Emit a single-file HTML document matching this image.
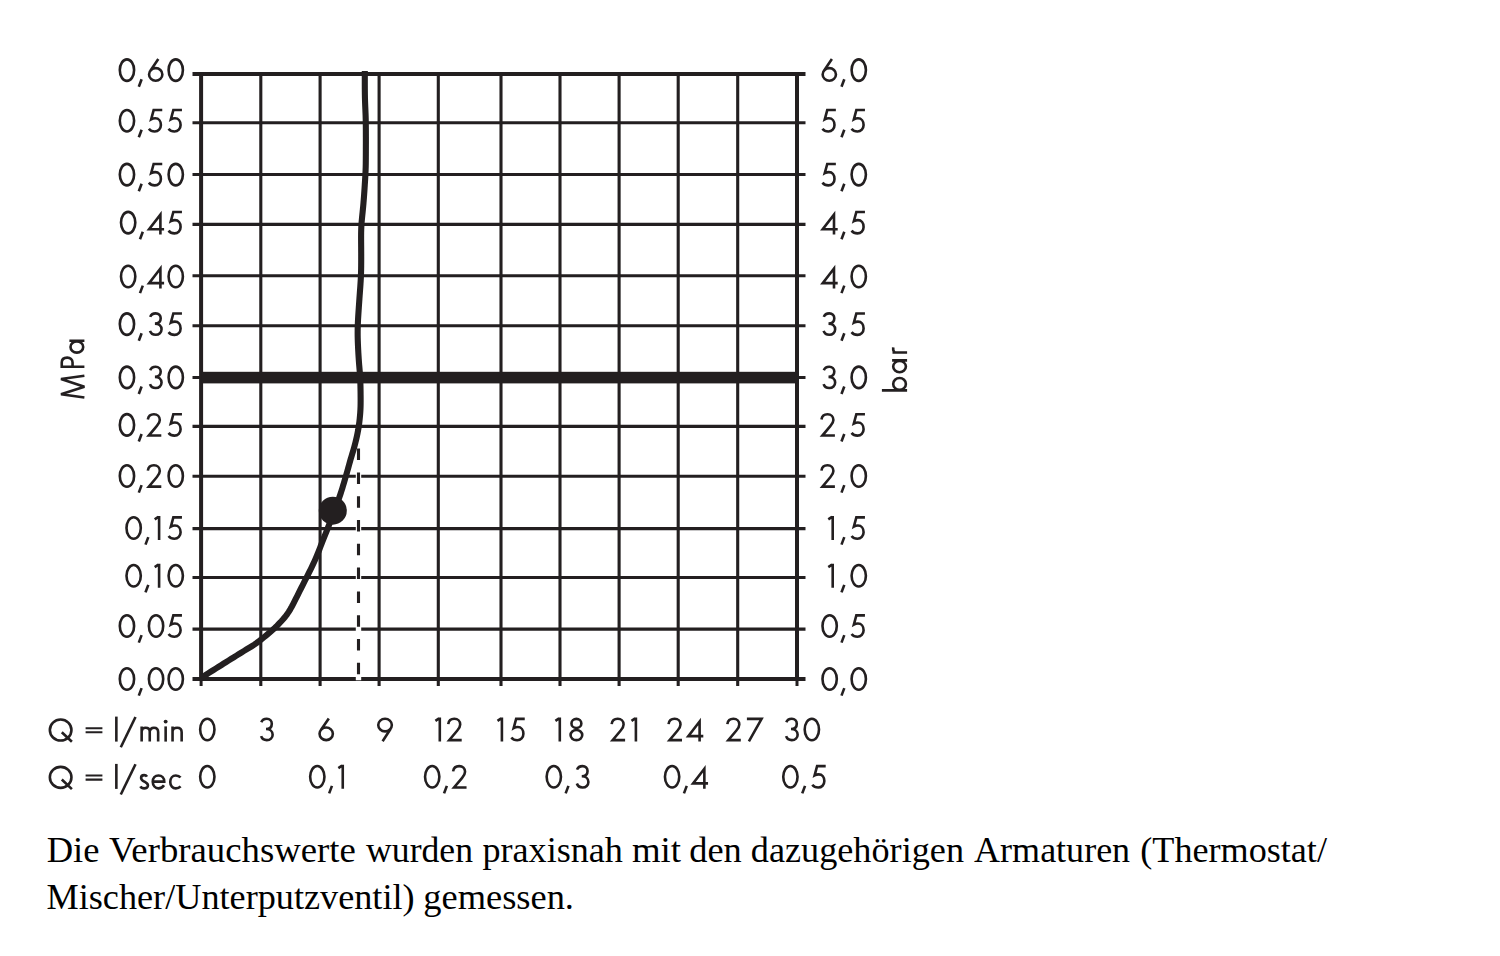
<!DOCTYPE html>
<html><head><meta charset="utf-8"><title>Chart</title>
<style>html,body{margin:0;padding:0;background:#fff;}svg{display:block;}</style></head>
<body><svg width="1500" height="956" viewBox="0 0 1500 956">
<rect width="1500" height="956" fill="#fff"/>
<line x1="192.5" y1="122.7" x2="805.5" y2="122.7" stroke="#231f20" stroke-width="3.1"/>
<line x1="192.5" y1="174.5" x2="805.5" y2="174.5" stroke="#231f20" stroke-width="3.1"/>
<line x1="192.5" y1="224.4" x2="805.5" y2="224.4" stroke="#231f20" stroke-width="3.1"/>
<line x1="192.5" y1="275.8" x2="805.5" y2="275.8" stroke="#231f20" stroke-width="3.1"/>
<line x1="192.5" y1="325.7" x2="805.5" y2="325.7" stroke="#231f20" stroke-width="3.1"/>
<line x1="192.5" y1="426.4" x2="805.5" y2="426.4" stroke="#231f20" stroke-width="3.1"/>
<line x1="192.5" y1="476.3" x2="805.5" y2="476.3" stroke="#231f20" stroke-width="3.1"/>
<line x1="192.5" y1="528.6" x2="805.5" y2="528.6" stroke="#231f20" stroke-width="3.1"/>
<line x1="192.5" y1="577.5" x2="805.5" y2="577.5" stroke="#231f20" stroke-width="3.1"/>
<line x1="192.5" y1="629.1" x2="805.5" y2="629.1" stroke="#231f20" stroke-width="3.1"/>
<line x1="260.8" y1="74.0" x2="260.8" y2="686.0" stroke="#231f20" stroke-width="3.1"/>
<line x1="320.1" y1="74.0" x2="320.1" y2="686.0" stroke="#231f20" stroke-width="3.1"/>
<line x1="379.1" y1="74.0" x2="379.1" y2="686.0" stroke="#231f20" stroke-width="3.1"/>
<line x1="438.3" y1="74.0" x2="438.3" y2="686.0" stroke="#231f20" stroke-width="3.1"/>
<line x1="501.0" y1="74.0" x2="501.0" y2="686.0" stroke="#231f20" stroke-width="3.1"/>
<line x1="560.0" y1="74.0" x2="560.0" y2="686.0" stroke="#231f20" stroke-width="3.1"/>
<line x1="619.1" y1="74.0" x2="619.1" y2="686.0" stroke="#231f20" stroke-width="3.1"/>
<line x1="678.2" y1="74.0" x2="678.2" y2="686.0" stroke="#231f20" stroke-width="3.1"/>
<line x1="737.7" y1="74.0" x2="737.7" y2="686.0" stroke="#231f20" stroke-width="3.1"/>
<line x1="192.5" y1="74.0" x2="805.5" y2="74.0" stroke="#231f20" stroke-width="3.8"/>
<line x1="192.5" y1="679.0" x2="805.5" y2="679.0" stroke="#231f20" stroke-width="3.8"/>
<line x1="201.1" y1="72.1" x2="201.1" y2="680.5" stroke="#231f20" stroke-width="4.0"/>
<line x1="201.1" y1="680" x2="201.1" y2="686" stroke="#231f20" stroke-width="3.0"/>
<line x1="797.0" y1="72.1" x2="797.0" y2="680.5" stroke="#231f20" stroke-width="4.0"/>
<line x1="797.0" y1="680" x2="797.0" y2="686" stroke="#231f20" stroke-width="3.0"/>
<line x1="192.5" y1="377.6" x2="805.5" y2="377.6" stroke="#231f20" stroke-width="3"/>
<rect x="201.1" y="371.8" width="595.9" height="11.6" fill="#231f20"/>
<line x1="358.5" y1="448.6" x2="358.5" y2="680.2" stroke="#fff" stroke-width="5.4"/>
<line x1="358.5" y1="448.6" x2="358.5" y2="676" stroke="#231f20" stroke-width="3.1" stroke-dasharray="11.5 12.3"/>
<path d="M364.80 71.00 L364.80 74.00 364.80 77.00 364.80 80.00 364.80 83.00 364.81 86.00 364.82 89.00 364.85 92.00 364.89 95.00 364.95 98.00 365.03 101.00 365.14 103.99 365.26 106.99 365.39 109.99 365.51 112.99 365.62 115.98 365.71 118.98 365.77 121.98 365.81 124.98 365.84 127.98 365.86 130.98 365.87 133.98 365.88 136.98 365.88 139.98 365.88 142.98 365.87 145.98 365.86 148.98 365.85 151.98 365.84 154.98 365.82 157.98 365.79 160.98 365.76 163.98 365.70 166.98 365.60 169.98 365.47 172.97 365.32 175.97 365.15 178.96 364.96 181.96 364.77 184.95 364.58 187.95 364.38 190.94 364.17 193.93 363.95 196.92 363.72 199.91 363.48 202.90 363.22 205.89 362.93 208.88 362.64 211.86 362.33 214.85 362.03 217.83 361.75 220.82 361.51 223.81 361.32 226.80 361.20 229.80 361.13 232.80 361.10 235.79 361.10 238.79 361.12 241.79 361.14 244.79 361.17 247.79 361.18 250.79 361.20 253.79 361.20 256.79 361.20 259.79 361.19 262.79 361.17 265.79 361.13 268.79 361.06 271.79 360.97 274.79 360.84 277.79 360.68 280.78 360.49 283.77 360.29 286.77 360.07 289.76 359.85 292.75 359.63 295.74 359.42 298.74 359.21 301.73 359.00 304.72 358.79 307.71 358.59 310.71 358.39 313.70 358.20 316.69 358.03 319.69 357.89 322.69 357.77 325.68 357.69 328.68 357.66 331.68 357.66 334.68 357.71 337.68 357.79 340.68 357.90 343.67 358.03 346.67 358.18 349.67 358.34 352.66 358.52 355.66 358.71 358.65 358.92 361.64 359.15 364.63 359.40 367.62 359.66 370.61 359.89 373.60 360.09 376.60 360.25 379.59 360.36 382.59 360.45 385.59 360.51 388.58 360.56 391.58 360.59 394.58 360.62 397.58 360.63 400.58 360.61 403.58 360.55 406.58 360.43 409.58 360.25 412.57 360.02 415.56 359.74 418.54 359.41 421.53 359.02 424.50 358.58 427.46 358.08 430.42 357.51 433.36 356.89 436.30 356.23 439.22 355.53 442.14 354.79 445.05 354.00 447.94 353.17 450.82 352.31 453.70 351.44 456.57 350.59 459.44 349.76 462.32 348.96 465.21 348.17 468.11 347.36 471.00 346.55 473.88 345.71 476.77 344.87 479.64 344.01 482.52 343.15 485.39 342.29 488.27 341.40 491.13 340.48 493.98 339.52 496.83 338.52 499.66 337.51 502.48 336.47 505.29 335.42 508.10 334.37 510.91 333.31 513.72 332.25 516.53 331.19 519.33 330.12 522.14 329.04 524.94 327.95 527.73 326.84 530.52 325.72 533.30 324.60 536.08 323.49 538.87 322.40 541.66 321.32 544.46 320.24 547.26 319.15 550.05 318.04 552.84 316.90 555.62 315.74 558.38 314.54 561.13 313.30 563.86 312.02 566.57 310.71 569.27 309.36 571.95 308.01 574.63 306.65 577.30 305.29 579.98 303.93 582.65 302.58 585.33 301.22 588.00 299.87 590.68 298.53 593.37 297.19 596.05 295.85 598.73 294.49 601.41 293.12 604.08 291.72 606.73 290.26 609.34 288.70 611.89 287.03 614.37 285.22 616.74 283.30 619.04 281.30 621.27 279.24 623.45 277.15 625.59 275.00 627.69 272.81 629.72 270.56 631.71 268.28 633.66 265.98 635.58 263.67 637.49 261.34 639.38 258.97 641.22 256.56 643.00 254.09 644.69 251.58 646.32 249.03 647.90 246.47 649.46 243.91 651.02 241.35 652.60 238.80 654.18 236.26 655.76 233.71 657.35 231.16 658.94 228.62 660.53 226.07 662.11 223.53 663.70 220.98 665.29 218.44 666.88 215.90 668.47 213.36 670.07 210.83 671.67 208.33 673.27 205.90 674.86 203.56 676.44 201.30 678.00" fill="none" stroke="#231f20" stroke-width="6.1" stroke-linecap="butt" stroke-linejoin="round"/>
<circle cx="332.8" cy="510.7" r="14.0" fill="#231f20"/>
<g transform="translate(118.45 82.10)"><g fill="none" stroke="#231f20" stroke-width="2.60" stroke-linejoin="miter" stroke-miterlimit="6"><path transform="translate(0.00 0)" d="M1.35 -12.00 A7.15 10.75 0 1 0 15.65 -12.00 A7.15 10.75 0 1 0 1.35 -12.00 Z"/><path transform="translate(19.35 0)" d="M3.8 -2.9 L1.0 4.6"/><path transform="translate(29.25 0)" d="M1.35 -7.65 A6.65 6.30 0 1 0 14.65 -7.65 A6.65 6.30 0 1 0 1.35 -7.65 Z M2.5 -11.2 L10.6 -23.0"/><path transform="translate(48.80 0)" d="M1.35 -12.00 A7.15 10.75 0 1 0 15.65 -12.00 A7.15 10.75 0 1 0 1.35 -12.00 Z"/></g><g fill="#231f20"></g></g>
<g transform="translate(821.30 82.10)"><g fill="none" stroke="#231f20" stroke-width="2.60" stroke-linejoin="miter" stroke-miterlimit="6"><path transform="translate(0.00 0)" d="M1.35 -7.65 A6.65 6.30 0 1 0 14.65 -7.65 A6.65 6.30 0 1 0 1.35 -7.65 Z M2.5 -11.2 L10.6 -23.0"/><path transform="translate(19.20 0)" d="M3.8 -2.9 L1.0 4.6"/><path transform="translate(28.95 0)" d="M1.35 -12.00 A7.15 10.75 0 1 0 15.65 -12.00 A7.15 10.75 0 1 0 1.35 -12.00 Z"/></g><g fill="#231f20"></g></g>
<g transform="translate(118.45 132.70)"><g fill="none" stroke="#231f20" stroke-width="2.60" stroke-linejoin="miter" stroke-miterlimit="6"><path transform="translate(0.00 0)" d="M1.35 -12.00 A7.15 10.75 0 1 0 15.65 -12.00 A7.15 10.75 0 1 0 1.35 -12.00 Z"/><path transform="translate(19.35 0)" d="M3.8 -2.9 L1.0 4.6"/><path transform="translate(29.20 0)" d="M14.6 -22.65 H6.0 L3.5 -13.4 C4.8 -14.1 6.2 -14.45 7.6 -14.45 C11.1 -14.45 13.25 -11.4 13.25 -7.7 C13.25 -3.9 10.6 -1.25 7.1 -1.25 C4.6 -1.25 2.5 -2.3 1.2 -4.0"/><path transform="translate(48.90 0)" d="M14.6 -22.65 H6.0 L3.5 -13.4 C4.8 -14.1 6.2 -14.45 7.6 -14.45 C11.1 -14.45 13.25 -11.4 13.25 -7.7 C13.25 -3.9 10.6 -1.25 7.1 -1.25 C4.6 -1.25 2.5 -2.3 1.2 -4.0"/></g><g fill="#231f20"></g></g>
<g transform="translate(821.25 132.70)"><g fill="none" stroke="#231f20" stroke-width="2.60" stroke-linejoin="miter" stroke-miterlimit="6"><path transform="translate(0.00 0)" d="M14.6 -22.65 H6.0 L3.5 -13.4 C4.8 -14.1 6.2 -14.45 7.6 -14.45 C11.1 -14.45 13.25 -11.4 13.25 -7.7 C13.25 -3.9 10.6 -1.25 7.1 -1.25 C4.6 -1.25 2.5 -2.3 1.2 -4.0"/><path transform="translate(19.25 0)" d="M3.8 -2.9 L1.0 4.6"/><path transform="translate(29.10 0)" d="M14.6 -22.65 H6.0 L3.5 -13.4 C4.8 -14.1 6.2 -14.45 7.6 -14.45 C11.1 -14.45 13.25 -11.4 13.25 -7.7 C13.25 -3.9 10.6 -1.25 7.1 -1.25 C4.6 -1.25 2.5 -2.3 1.2 -4.0"/></g><g fill="#231f20"></g></g>
<g transform="translate(118.45 186.60)"><g fill="none" stroke="#231f20" stroke-width="2.60" stroke-linejoin="miter" stroke-miterlimit="6"><path transform="translate(0.00 0)" d="M1.35 -12.00 A7.15 10.75 0 1 0 15.65 -12.00 A7.15 10.75 0 1 0 1.35 -12.00 Z"/><path transform="translate(19.35 0)" d="M3.8 -2.9 L1.0 4.6"/><path transform="translate(29.20 0)" d="M14.6 -22.65 H6.0 L3.5 -13.4 C4.8 -14.1 6.2 -14.45 7.6 -14.45 C11.1 -14.45 13.25 -11.4 13.25 -7.7 C13.25 -3.9 10.6 -1.25 7.1 -1.25 C4.6 -1.25 2.5 -2.3 1.2 -4.0"/><path transform="translate(48.80 0)" d="M1.35 -12.00 A7.15 10.75 0 1 0 15.65 -12.00 A7.15 10.75 0 1 0 1.35 -12.00 Z"/></g><g fill="#231f20"></g></g>
<g transform="translate(821.25 186.60)"><g fill="none" stroke="#231f20" stroke-width="2.60" stroke-linejoin="miter" stroke-miterlimit="6"><path transform="translate(0.00 0)" d="M14.6 -22.65 H6.0 L3.5 -13.4 C4.8 -14.1 6.2 -14.45 7.6 -14.45 C11.1 -14.45 13.25 -11.4 13.25 -7.7 C13.25 -3.9 10.6 -1.25 7.1 -1.25 C4.6 -1.25 2.5 -2.3 1.2 -4.0"/><path transform="translate(19.25 0)" d="M3.8 -2.9 L1.0 4.6"/><path transform="translate(29.00 0)" d="M1.35 -12.00 A7.15 10.75 0 1 0 15.65 -12.00 A7.15 10.75 0 1 0 1.35 -12.00 Z"/></g><g fill="#231f20"></g></g>
<g transform="translate(119.65 234.60)"><g fill="none" stroke="#231f20" stroke-width="2.60" stroke-linejoin="miter" stroke-miterlimit="6"><path transform="translate(0.00 0)" d="M1.35 -12.00 A7.15 10.75 0 1 0 15.65 -12.00 A7.15 10.75 0 1 0 1.35 -12.00 Z"/><path transform="translate(19.35 0)" d="M3.8 -2.9 L1.0 4.6"/><path transform="translate(28.15 0)" d="M12.6 0 V-20.0 L1.3 -5.4 H16.3"/><path transform="translate(47.70 0)" d="M14.6 -22.65 H6.0 L3.5 -13.4 C4.8 -14.1 6.2 -14.45 7.6 -14.45 C11.1 -14.45 13.25 -11.4 13.25 -7.7 C13.25 -3.9 10.6 -1.25 7.1 -1.25 C4.6 -1.25 2.5 -2.3 1.2 -4.0"/></g><g fill="#231f20"></g></g>
<g transform="translate(821.40 234.60)"><g fill="none" stroke="#231f20" stroke-width="2.60" stroke-linejoin="miter" stroke-miterlimit="6"><path transform="translate(0.00 0)" d="M12.6 0 V-20.0 L1.3 -5.4 H16.3"/><path transform="translate(19.10 0)" d="M3.8 -2.9 L1.0 4.6"/><path transform="translate(28.95 0)" d="M14.6 -22.65 H6.0 L3.5 -13.4 C4.8 -14.1 6.2 -14.45 7.6 -14.45 C11.1 -14.45 13.25 -11.4 13.25 -7.7 C13.25 -3.9 10.6 -1.25 7.1 -1.25 C4.6 -1.25 2.5 -2.3 1.2 -4.0"/></g><g fill="#231f20"></g></g>
<g transform="translate(119.65 288.50)"><g fill="none" stroke="#231f20" stroke-width="2.60" stroke-linejoin="miter" stroke-miterlimit="6"><path transform="translate(0.00 0)" d="M1.35 -12.00 A7.15 10.75 0 1 0 15.65 -12.00 A7.15 10.75 0 1 0 1.35 -12.00 Z"/><path transform="translate(19.35 0)" d="M3.8 -2.9 L1.0 4.6"/><path transform="translate(28.15 0)" d="M12.6 0 V-20.0 L1.3 -5.4 H16.3"/><path transform="translate(47.60 0)" d="M1.35 -12.00 A7.15 10.75 0 1 0 15.65 -12.00 A7.15 10.75 0 1 0 1.35 -12.00 Z"/></g><g fill="#231f20"></g></g>
<g transform="translate(821.40 288.50)"><g fill="none" stroke="#231f20" stroke-width="2.60" stroke-linejoin="miter" stroke-miterlimit="6"><path transform="translate(0.00 0)" d="M12.6 0 V-20.0 L1.3 -5.4 H16.3"/><path transform="translate(19.10 0)" d="M3.8 -2.9 L1.0 4.6"/><path transform="translate(28.85 0)" d="M1.35 -12.00 A7.15 10.75 0 1 0 15.65 -12.00 A7.15 10.75 0 1 0 1.35 -12.00 Z"/></g><g fill="#231f20"></g></g>
<g transform="translate(118.45 336.10)"><g fill="none" stroke="#231f20" stroke-width="2.60" stroke-linejoin="miter" stroke-miterlimit="6"><path transform="translate(0.00 0)" d="M1.35 -12.00 A7.15 10.75 0 1 0 15.65 -12.00 A7.15 10.75 0 1 0 1.35 -12.00 Z"/><path transform="translate(19.35 0)" d="M3.8 -2.9 L1.0 4.6"/><path transform="translate(30.25 0)" d="M1.5 -19.2 C2.4 -21.6 4.5 -22.7 7.0 -22.7 C9.9 -22.7 12.0 -20.7 12.0 -17.8 C12.0 -14.6 9.8 -12.5 6.2 -12.5 M6.2 -12.5 C10.2 -12.5 12.85 -10.1 12.85 -6.8 C12.85 -3.6 10.4 -1.35 7.0 -1.35 C4.3 -1.35 2.1 -2.9 1.3 -5.3"/><path transform="translate(48.90 0)" d="M14.6 -22.65 H6.0 L3.5 -13.4 C4.8 -14.1 6.2 -14.45 7.6 -14.45 C11.1 -14.45 13.25 -11.4 13.25 -7.7 C13.25 -3.9 10.6 -1.25 7.1 -1.25 C4.6 -1.25 2.5 -2.3 1.2 -4.0"/></g><g fill="#231f20"></g></g>
<g transform="translate(822.30 336.10)"><g fill="none" stroke="#231f20" stroke-width="2.60" stroke-linejoin="miter" stroke-miterlimit="6"><path transform="translate(0.00 0)" d="M1.5 -19.2 C2.4 -21.6 4.5 -22.7 7.0 -22.7 C9.9 -22.7 12.0 -20.7 12.0 -17.8 C12.0 -14.6 9.8 -12.5 6.2 -12.5 M6.2 -12.5 C10.2 -12.5 12.85 -10.1 12.85 -6.8 C12.85 -3.6 10.4 -1.35 7.0 -1.35 C4.3 -1.35 2.1 -2.9 1.3 -5.3"/><path transform="translate(18.20 0)" d="M3.8 -2.9 L1.0 4.6"/><path transform="translate(28.05 0)" d="M14.6 -22.65 H6.0 L3.5 -13.4 C4.8 -14.1 6.2 -14.45 7.6 -14.45 C11.1 -14.45 13.25 -11.4 13.25 -7.7 C13.25 -3.9 10.6 -1.25 7.1 -1.25 C4.6 -1.25 2.5 -2.3 1.2 -4.0"/></g><g fill="#231f20"></g></g>
<g transform="translate(118.45 389.40)"><g fill="none" stroke="#231f20" stroke-width="2.60" stroke-linejoin="miter" stroke-miterlimit="6"><path transform="translate(0.00 0)" d="M1.35 -12.00 A7.15 10.75 0 1 0 15.65 -12.00 A7.15 10.75 0 1 0 1.35 -12.00 Z"/><path transform="translate(19.35 0)" d="M3.8 -2.9 L1.0 4.6"/><path transform="translate(30.25 0)" d="M1.5 -19.2 C2.4 -21.6 4.5 -22.7 7.0 -22.7 C9.9 -22.7 12.0 -20.7 12.0 -17.8 C12.0 -14.6 9.8 -12.5 6.2 -12.5 M6.2 -12.5 C10.2 -12.5 12.85 -10.1 12.85 -6.8 C12.85 -3.6 10.4 -1.35 7.0 -1.35 C4.3 -1.35 2.1 -2.9 1.3 -5.3"/><path transform="translate(48.80 0)" d="M1.35 -12.00 A7.15 10.75 0 1 0 15.65 -12.00 A7.15 10.75 0 1 0 1.35 -12.00 Z"/></g><g fill="#231f20"></g></g>
<g transform="translate(822.30 389.40)"><g fill="none" stroke="#231f20" stroke-width="2.60" stroke-linejoin="miter" stroke-miterlimit="6"><path transform="translate(0.00 0)" d="M1.5 -19.2 C2.4 -21.6 4.5 -22.7 7.0 -22.7 C9.9 -22.7 12.0 -20.7 12.0 -17.8 C12.0 -14.6 9.8 -12.5 6.2 -12.5 M6.2 -12.5 C10.2 -12.5 12.85 -10.1 12.85 -6.8 C12.85 -3.6 10.4 -1.35 7.0 -1.35 C4.3 -1.35 2.1 -2.9 1.3 -5.3"/><path transform="translate(18.20 0)" d="M3.8 -2.9 L1.0 4.6"/><path transform="translate(27.95 0)" d="M1.35 -12.00 A7.15 10.75 0 1 0 15.65 -12.00 A7.15 10.75 0 1 0 1.35 -12.00 Z"/></g><g fill="#231f20"></g></g>
<g transform="translate(118.45 436.90)"><g fill="none" stroke="#231f20" stroke-width="2.60" stroke-linejoin="miter" stroke-miterlimit="6"><path transform="translate(0.00 0)" d="M1.35 -12.00 A7.15 10.75 0 1 0 15.65 -12.00 A7.15 10.75 0 1 0 1.35 -12.00 Z"/><path transform="translate(19.35 0)" d="M3.8 -2.9 L1.0 4.6"/><path transform="translate(28.05 0)" d="M1.35 -17.4 C1.9 -20.9 4.4 -22.7 7.4 -22.7 C10.9 -22.7 13.3 -20.3 13.3 -17.0 C13.3 -14.6 12.1 -12.9 10.4 -11.0 L2.3 -1.35 H14.8"/><path transform="translate(48.90 0)" d="M14.6 -22.65 H6.0 L3.5 -13.4 C4.8 -14.1 6.2 -14.45 7.6 -14.45 C11.1 -14.45 13.25 -11.4 13.25 -7.7 C13.25 -3.9 10.6 -1.25 7.1 -1.25 C4.6 -1.25 2.5 -2.3 1.2 -4.0"/></g><g fill="#231f20"></g></g>
<g transform="translate(820.10 436.90)"><g fill="none" stroke="#231f20" stroke-width="2.60" stroke-linejoin="miter" stroke-miterlimit="6"><path transform="translate(0.00 0)" d="M1.35 -17.4 C1.9 -20.9 4.4 -22.7 7.4 -22.7 C10.9 -22.7 13.3 -20.3 13.3 -17.0 C13.3 -14.6 12.1 -12.9 10.4 -11.0 L2.3 -1.35 H14.8"/><path transform="translate(20.40 0)" d="M3.8 -2.9 L1.0 4.6"/><path transform="translate(30.25 0)" d="M14.6 -22.65 H6.0 L3.5 -13.4 C4.8 -14.1 6.2 -14.45 7.6 -14.45 C11.1 -14.45 13.25 -11.4 13.25 -7.7 C13.25 -3.9 10.6 -1.25 7.1 -1.25 C4.6 -1.25 2.5 -2.3 1.2 -4.0"/></g><g fill="#231f20"></g></g>
<g transform="translate(118.45 488.00)"><g fill="none" stroke="#231f20" stroke-width="2.60" stroke-linejoin="miter" stroke-miterlimit="6"><path transform="translate(0.00 0)" d="M1.35 -12.00 A7.15 10.75 0 1 0 15.65 -12.00 A7.15 10.75 0 1 0 1.35 -12.00 Z"/><path transform="translate(19.35 0)" d="M3.8 -2.9 L1.0 4.6"/><path transform="translate(28.05 0)" d="M1.35 -17.4 C1.9 -20.9 4.4 -22.7 7.4 -22.7 C10.9 -22.7 13.3 -20.3 13.3 -17.0 C13.3 -14.6 12.1 -12.9 10.4 -11.0 L2.3 -1.35 H14.8"/><path transform="translate(48.80 0)" d="M1.35 -12.00 A7.15 10.75 0 1 0 15.65 -12.00 A7.15 10.75 0 1 0 1.35 -12.00 Z"/></g><g fill="#231f20"></g></g>
<g transform="translate(820.10 488.00)"><g fill="none" stroke="#231f20" stroke-width="2.60" stroke-linejoin="miter" stroke-miterlimit="6"><path transform="translate(0.00 0)" d="M1.35 -17.4 C1.9 -20.9 4.4 -22.7 7.4 -22.7 C10.9 -22.7 13.3 -20.3 13.3 -17.0 C13.3 -14.6 12.1 -12.9 10.4 -11.0 L2.3 -1.35 H14.8"/><path transform="translate(20.40 0)" d="M3.8 -2.9 L1.0 4.6"/><path transform="translate(30.15 0)" d="M1.35 -12.00 A7.15 10.75 0 1 0 15.65 -12.00 A7.15 10.75 0 1 0 1.35 -12.00 Z"/></g><g fill="#231f20"></g></g>
<g transform="translate(125.15 540.00)"><g fill="none" stroke="#231f20" stroke-width="2.60" stroke-linejoin="miter" stroke-miterlimit="6"><path transform="translate(0.00 0)" d="M1.35 -12.00 A7.15 10.75 0 1 0 15.65 -12.00 A7.15 10.75 0 1 0 1.35 -12.00 Z"/><path transform="translate(19.35 0)" d="M3.8 -2.9 L1.0 4.6"/><path transform="translate(28.35 0)" d="M1.2 -20.7 L4.9 -23.1 M5.6 -24.0 V0"/><path transform="translate(42.20 0)" d="M14.6 -22.65 H6.0 L3.5 -13.4 C4.8 -14.1 6.2 -14.45 7.6 -14.45 C11.1 -14.45 13.25 -11.4 13.25 -7.7 C13.25 -3.9 10.6 -1.25 7.1 -1.25 C4.6 -1.25 2.5 -2.3 1.2 -4.0"/></g><g fill="#231f20"></g></g>
<g transform="translate(827.10 540.00)"><g fill="none" stroke="#231f20" stroke-width="2.60" stroke-linejoin="miter" stroke-miterlimit="6"><path transform="translate(0.00 0)" d="M1.2 -20.7 L4.9 -23.1 M5.6 -24.0 V0"/><path transform="translate(13.40 0)" d="M3.8 -2.9 L1.0 4.6"/><path transform="translate(23.25 0)" d="M14.6 -22.65 H6.0 L3.5 -13.4 C4.8 -14.1 6.2 -14.45 7.6 -14.45 C11.1 -14.45 13.25 -11.4 13.25 -7.7 C13.25 -3.9 10.6 -1.25 7.1 -1.25 C4.6 -1.25 2.5 -2.3 1.2 -4.0"/></g><g fill="#231f20"></g></g>
<g transform="translate(125.15 587.80)"><g fill="none" stroke="#231f20" stroke-width="2.60" stroke-linejoin="miter" stroke-miterlimit="6"><path transform="translate(0.00 0)" d="M1.35 -12.00 A7.15 10.75 0 1 0 15.65 -12.00 A7.15 10.75 0 1 0 1.35 -12.00 Z"/><path transform="translate(19.35 0)" d="M3.8 -2.9 L1.0 4.6"/><path transform="translate(28.35 0)" d="M1.2 -20.7 L4.9 -23.1 M5.6 -24.0 V0"/><path transform="translate(42.10 0)" d="M1.35 -12.00 A7.15 10.75 0 1 0 15.65 -12.00 A7.15 10.75 0 1 0 1.35 -12.00 Z"/></g><g fill="#231f20"></g></g>
<g transform="translate(827.10 587.80)"><g fill="none" stroke="#231f20" stroke-width="2.60" stroke-linejoin="miter" stroke-miterlimit="6"><path transform="translate(0.00 0)" d="M1.2 -20.7 L4.9 -23.1 M5.6 -24.0 V0"/><path transform="translate(13.40 0)" d="M3.8 -2.9 L1.0 4.6"/><path transform="translate(23.15 0)" d="M1.35 -12.00 A7.15 10.75 0 1 0 15.65 -12.00 A7.15 10.75 0 1 0 1.35 -12.00 Z"/></g><g fill="#231f20"></g></g>
<g transform="translate(118.45 638.00)"><g fill="none" stroke="#231f20" stroke-width="2.60" stroke-linejoin="miter" stroke-miterlimit="6"><path transform="translate(0.00 0)" d="M1.35 -12.00 A7.15 10.75 0 1 0 15.65 -12.00 A7.15 10.75 0 1 0 1.35 -12.00 Z"/><path transform="translate(19.35 0)" d="M3.8 -2.9 L1.0 4.6"/><path transform="translate(29.10 0)" d="M1.35 -12.00 A7.15 10.75 0 1 0 15.65 -12.00 A7.15 10.75 0 1 0 1.35 -12.00 Z"/><path transform="translate(48.90 0)" d="M14.6 -22.65 H6.0 L3.5 -13.4 C4.8 -14.1 6.2 -14.45 7.6 -14.45 C11.1 -14.45 13.25 -11.4 13.25 -7.7 C13.25 -3.9 10.6 -1.25 7.1 -1.25 C4.6 -1.25 2.5 -2.3 1.2 -4.0"/></g><g fill="#231f20"></g></g>
<g transform="translate(821.15 638.00)"><g fill="none" stroke="#231f20" stroke-width="2.60" stroke-linejoin="miter" stroke-miterlimit="6"><path transform="translate(0.00 0)" d="M1.35 -12.00 A7.15 10.75 0 1 0 15.65 -12.00 A7.15 10.75 0 1 0 1.35 -12.00 Z"/><path transform="translate(19.35 0)" d="M3.8 -2.9 L1.0 4.6"/><path transform="translate(29.20 0)" d="M14.6 -22.65 H6.0 L3.5 -13.4 C4.8 -14.1 6.2 -14.45 7.6 -14.45 C11.1 -14.45 13.25 -11.4 13.25 -7.7 C13.25 -3.9 10.6 -1.25 7.1 -1.25 C4.6 -1.25 2.5 -2.3 1.2 -4.0"/></g><g fill="#231f20"></g></g>
<g transform="translate(118.45 691.00)"><g fill="none" stroke="#231f20" stroke-width="2.60" stroke-linejoin="miter" stroke-miterlimit="6"><path transform="translate(0.00 0)" d="M1.35 -12.00 A7.15 10.75 0 1 0 15.65 -12.00 A7.15 10.75 0 1 0 1.35 -12.00 Z"/><path transform="translate(19.35 0)" d="M3.8 -2.9 L1.0 4.6"/><path transform="translate(29.10 0)" d="M1.35 -12.00 A7.15 10.75 0 1 0 15.65 -12.00 A7.15 10.75 0 1 0 1.35 -12.00 Z"/><path transform="translate(48.80 0)" d="M1.35 -12.00 A7.15 10.75 0 1 0 15.65 -12.00 A7.15 10.75 0 1 0 1.35 -12.00 Z"/></g><g fill="#231f20"></g></g>
<g transform="translate(821.15 691.00)"><g fill="none" stroke="#231f20" stroke-width="2.60" stroke-linejoin="miter" stroke-miterlimit="6"><path transform="translate(0.00 0)" d="M1.35 -12.00 A7.15 10.75 0 1 0 15.65 -12.00 A7.15 10.75 0 1 0 1.35 -12.00 Z"/><path transform="translate(19.35 0)" d="M3.8 -2.9 L1.0 4.6"/><path transform="translate(29.10 0)" d="M1.35 -12.00 A7.15 10.75 0 1 0 15.65 -12.00 A7.15 10.75 0 1 0 1.35 -12.00 Z"/></g><g fill="#231f20"></g></g>
<g transform="translate(198.80 741.50)"><g fill="none" stroke="#231f20" stroke-width="2.60" stroke-linejoin="miter" stroke-miterlimit="6"><path transform="translate(0.00 0)" d="M1.35 -12.00 A7.15 10.75 0 1 0 15.65 -12.00 A7.15 10.75 0 1 0 1.35 -12.00 Z"/></g><g fill="#231f20"></g></g>
<g transform="translate(259.80 741.50)"><g fill="none" stroke="#231f20" stroke-width="2.60" stroke-linejoin="miter" stroke-miterlimit="6"><path transform="translate(0.00 0)" d="M1.5 -19.2 C2.4 -21.6 4.5 -22.7 7.0 -22.7 C9.9 -22.7 12.0 -20.7 12.0 -17.8 C12.0 -14.6 9.8 -12.5 6.2 -12.5 M6.2 -12.5 C10.2 -12.5 12.85 -10.1 12.85 -6.8 C12.85 -3.6 10.4 -1.35 7.0 -1.35 C4.3 -1.35 2.1 -2.9 1.3 -5.3"/></g><g fill="#231f20"></g></g>
<g transform="translate(318.20 741.50)"><g fill="none" stroke="#231f20" stroke-width="2.60" stroke-linejoin="miter" stroke-miterlimit="6"><path transform="translate(0.00 0)" d="M1.35 -7.65 A6.65 6.30 0 1 0 14.65 -7.65 A6.65 6.30 0 1 0 1.35 -7.65 Z M2.5 -11.2 L10.6 -23.0"/></g><g fill="#231f20"></g></g>
<g transform="translate(376.90 741.50)"><g fill="none" stroke="#231f20" stroke-width="2.60" stroke-linejoin="miter" stroke-miterlimit="6"><path transform="translate(0.00 0)" d="M1.35 -16.40 A6.80 6.30 0 1 0 14.95 -16.40 A6.80 6.30 0 1 0 1.35 -16.40 Z M13.8 -12.8 L5.7 -0.2"/></g><g fill="#231f20"></g></g>
<g transform="translate(434.20 741.50)"><g fill="none" stroke="#231f20" stroke-width="2.60" stroke-linejoin="miter" stroke-miterlimit="6"><path transform="translate(0.00 0)" d="M1.2 -20.7 L4.9 -23.1 M5.6 -24.0 V0"/><path transform="translate(12.70 0)" d="M1.35 -17.4 C1.9 -20.9 4.4 -22.7 7.4 -22.7 C10.9 -22.7 13.3 -20.3 13.3 -17.0 C13.3 -14.6 12.1 -12.9 10.4 -11.0 L2.3 -1.35 H14.8"/></g><g fill="#231f20"></g></g>
<g transform="translate(496.30 741.50)"><g fill="none" stroke="#231f20" stroke-width="2.60" stroke-linejoin="miter" stroke-miterlimit="6"><path transform="translate(0.00 0)" d="M1.2 -20.7 L4.9 -23.1 M5.6 -24.0 V0"/><path transform="translate(13.85 0)" d="M14.6 -22.65 H6.0 L3.5 -13.4 C4.8 -14.1 6.2 -14.45 7.6 -14.45 C11.1 -14.45 13.25 -11.4 13.25 -7.7 C13.25 -3.9 10.6 -1.25 7.1 -1.25 C4.6 -1.25 2.5 -2.3 1.2 -4.0"/></g><g fill="#231f20"></g></g>
<g transform="translate(554.20 741.50)"><g fill="none" stroke="#231f20" stroke-width="2.60" stroke-linejoin="miter" stroke-miterlimit="6"><path transform="translate(0.00 0)" d="M1.2 -20.7 L4.9 -23.1 M5.6 -24.0 V0"/><path transform="translate(15.00 0)" d="M2.25 -18.10 A4.95 4.55 0 1 0 12.15 -18.10 A4.95 4.55 0 1 0 2.25 -18.10 Z M1.35 -6.45 A5.85 5.10 0 1 0 13.05 -6.45 A5.85 5.10 0 1 0 1.35 -6.45 Z"/></g><g fill="#231f20"></g></g>
<g transform="translate(610.30 741.50)"><g fill="none" stroke="#231f20" stroke-width="2.60" stroke-linejoin="miter" stroke-miterlimit="6"><path transform="translate(0.00 0)" d="M1.35 -17.4 C1.9 -20.9 4.4 -22.7 7.4 -22.7 C10.9 -22.7 13.3 -20.3 13.3 -17.0 C13.3 -14.6 12.1 -12.9 10.4 -11.0 L2.3 -1.35 H14.8"/><path transform="translate(20.00 0)" d="M1.2 -20.7 L4.9 -23.1 M5.6 -24.0 V0"/></g><g fill="#231f20"></g></g>
<g transform="translate(667.20 741.50)"><g fill="none" stroke="#231f20" stroke-width="2.60" stroke-linejoin="miter" stroke-miterlimit="6"><path transform="translate(0.00 0)" d="M1.35 -17.4 C1.9 -20.9 4.4 -22.7 7.4 -22.7 C10.9 -22.7 13.3 -20.3 13.3 -17.0 C13.3 -14.6 12.1 -12.9 10.4 -11.0 L2.3 -1.35 H14.8"/><path transform="translate(19.80 0)" d="M12.6 0 V-20.0 L1.3 -5.4 H16.3"/></g><g fill="#231f20"></g></g>
<g transform="translate(726.00 741.50)"><g fill="none" stroke="#231f20" stroke-width="2.60" stroke-linejoin="miter" stroke-miterlimit="6"><path transform="translate(0.00 0)" d="M1.35 -17.4 C1.9 -20.9 4.4 -22.7 7.4 -22.7 C10.9 -22.7 13.3 -20.3 13.3 -17.0 C13.3 -14.6 12.1 -12.9 10.4 -11.0 L2.3 -1.35 H14.8"/><path transform="translate(20.90 0)" d="M0 -22.65 H14.7 L2.0 -0.1"/></g><g fill="#231f20"></g></g>
<g transform="translate(784.80 741.50)"><g fill="none" stroke="#231f20" stroke-width="2.60" stroke-linejoin="miter" stroke-miterlimit="6"><path transform="translate(0.00 0)" d="M1.5 -19.2 C2.4 -21.6 4.5 -22.7 7.0 -22.7 C9.9 -22.7 12.0 -20.7 12.0 -17.8 C12.0 -14.6 9.8 -12.5 6.2 -12.5 M6.2 -12.5 C10.2 -12.5 12.85 -10.1 12.85 -6.8 C12.85 -3.6 10.4 -1.35 7.0 -1.35 C4.3 -1.35 2.1 -2.9 1.3 -5.3"/><path transform="translate(18.55 0)" d="M1.35 -12.00 A7.15 10.75 0 1 0 15.65 -12.00 A7.15 10.75 0 1 0 1.35 -12.00 Z"/></g><g fill="#231f20"></g></g>
<g transform="translate(198.80 788.80)"><g fill="none" stroke="#231f20" stroke-width="2.60" stroke-linejoin="miter" stroke-miterlimit="6"><path transform="translate(0.00 0)" d="M1.35 -12.00 A7.15 10.75 0 1 0 15.65 -12.00 A7.15 10.75 0 1 0 1.35 -12.00 Z"/></g><g fill="#231f20"></g></g>
<g transform="translate(308.80 788.80)"><g fill="none" stroke="#231f20" stroke-width="2.60" stroke-linejoin="miter" stroke-miterlimit="6"><path transform="translate(0.00 0)" d="M1.35 -12.00 A7.15 10.75 0 1 0 15.65 -12.00 A7.15 10.75 0 1 0 1.35 -12.00 Z"/><path transform="translate(19.35 0)" d="M3.8 -2.9 L1.0 4.6"/><path transform="translate(28.35 0)" d="M1.2 -20.7 L4.9 -23.1 M5.6 -24.0 V0"/></g><g fill="#231f20"></g></g>
<g transform="translate(423.70 788.80)"><g fill="none" stroke="#231f20" stroke-width="2.60" stroke-linejoin="miter" stroke-miterlimit="6"><path transform="translate(0.00 0)" d="M1.35 -12.00 A7.15 10.75 0 1 0 15.65 -12.00 A7.15 10.75 0 1 0 1.35 -12.00 Z"/><path transform="translate(19.35 0)" d="M3.8 -2.9 L1.0 4.6"/><path transform="translate(28.05 0)" d="M1.35 -17.4 C1.9 -20.9 4.4 -22.7 7.4 -22.7 C10.9 -22.7 13.3 -20.3 13.3 -17.0 C13.3 -14.6 12.1 -12.9 10.4 -11.0 L2.3 -1.35 H14.8"/></g><g fill="#231f20"></g></g>
<g transform="translate(545.30 788.80)"><g fill="none" stroke="#231f20" stroke-width="2.60" stroke-linejoin="miter" stroke-miterlimit="6"><path transform="translate(0.00 0)" d="M1.35 -12.00 A7.15 10.75 0 1 0 15.65 -12.00 A7.15 10.75 0 1 0 1.35 -12.00 Z"/><path transform="translate(19.35 0)" d="M3.8 -2.9 L1.0 4.6"/><path transform="translate(30.25 0)" d="M1.5 -19.2 C2.4 -21.6 4.5 -22.7 7.0 -22.7 C9.9 -22.7 12.0 -20.7 12.0 -17.8 C12.0 -14.6 9.8 -12.5 6.2 -12.5 M6.2 -12.5 C10.2 -12.5 12.85 -10.1 12.85 -6.8 C12.85 -3.6 10.4 -1.35 7.0 -1.35 C4.3 -1.35 2.1 -2.9 1.3 -5.3"/></g><g fill="#231f20"></g></g>
<g transform="translate(663.60 788.80)"><g fill="none" stroke="#231f20" stroke-width="2.60" stroke-linejoin="miter" stroke-miterlimit="6"><path transform="translate(0.00 0)" d="M1.35 -12.00 A7.15 10.75 0 1 0 15.65 -12.00 A7.15 10.75 0 1 0 1.35 -12.00 Z"/><path transform="translate(19.35 0)" d="M3.8 -2.9 L1.0 4.6"/><path transform="translate(28.15 0)" d="M12.6 0 V-20.0 L1.3 -5.4 H16.3"/></g><g fill="#231f20"></g></g>
<g transform="translate(781.90 788.80)"><g fill="none" stroke="#231f20" stroke-width="2.60" stroke-linejoin="miter" stroke-miterlimit="6"><path transform="translate(0.00 0)" d="M1.35 -12.00 A7.15 10.75 0 1 0 15.65 -12.00 A7.15 10.75 0 1 0 1.35 -12.00 Z"/><path transform="translate(19.35 0)" d="M3.8 -2.9 L1.0 4.6"/><path transform="translate(29.20 0)" d="M14.6 -22.65 H6.0 L3.5 -13.4 C4.8 -14.1 6.2 -14.45 7.6 -14.45 C11.1 -14.45 13.25 -11.4 13.25 -7.7 C13.25 -3.9 10.6 -1.25 7.1 -1.25 C4.6 -1.25 2.5 -2.3 1.2 -4.0"/></g><g fill="#231f20"></g></g>
<g transform="translate(48.50 741.60)"><g fill="none" stroke="#231f20" stroke-width="2.60" stroke-linejoin="miter" stroke-miterlimit="6"><path transform="translate(0.00 0)" d="M1.35 -11.55 A10.80 10.50 0 1 0 22.95 -11.55 A10.80 10.50 0 1 0 1.35 -11.55 Z M13.3 -9.4 L23.4 0.2"/><path transform="translate(37.10 0)" d="M0 -13.4 H16.8 M0 -9.3 H16.8" stroke-width="2.1"/><path transform="translate(66.40 0)" d="M1.45 -25.0 V0"/><path transform="translate(71.00 0)" d="M16.0 -24.6 L1.3 5.6"/><path transform="translate(91.80 0)" d="M1.35 -15.2 V0 M1.35 -10.2 C1.6 -12.6 3.1 -13.85 5.3 -13.85 C7.8 -13.85 9.45 -12.5 9.45 -9.8 V0 M9.45 -10.2 C9.8 -12.6 11.4 -13.85 13.6 -13.85 C16.3 -13.85 17.85 -12.4 17.85 -9.5 V0"/><path transform="translate(115.80 0)" d="M1.35 -15.2 V0"/><path transform="translate(122.70 0)" d="M1.35 -15.2 V0 M1.35 -10.2 C1.6 -12.6 3.4 -13.85 5.9 -13.85 C8.8 -13.85 10.45 -12.3 10.45 -9.3 V0"/></g><g fill="#231f20"><g transform="translate(115.80 0)"><circle cx="1.35" cy="-20.0" r="1.95"/></g></g></g>
<g transform="translate(48.50 788.90)"><g fill="none" stroke="#231f20" stroke-width="2.60" stroke-linejoin="miter" stroke-miterlimit="6"><path transform="translate(0.00 0)" d="M1.35 -11.55 A10.80 10.50 0 1 0 22.95 -11.55 A10.80 10.50 0 1 0 1.35 -11.55 Z M13.3 -9.4 L23.4 0.2"/><path transform="translate(37.10 0)" d="M0 -13.4 H16.8 M0 -9.3 H16.8" stroke-width="2.1"/><path transform="translate(66.40 0)" d="M1.45 -25.0 V0"/><path transform="translate(71.00 0)" d="M16.0 -24.6 L1.3 5.6"/><path transform="translate(91.00 0)" d="M7.5 -12.2 C6.9 -13.2 5.9 -13.8 4.6 -13.8 C2.9 -13.8 1.6 -12.6 1.6 -11.0 C1.6 -9.0 3.2 -8.2 5.0 -7.2 C6.8 -6.2 8.45 -5.3 8.45 -3.4 C8.45 -1.5 6.8 -0.5 4.7 -0.5 C3.0 -0.5 1.6 -1.3 0.9 -2.6"/><path transform="translate(103.00 0)" d="M1.25 -7.3 H12.75 C12.75 -11.0 10.3 -13.45 7.0 -13.45 C3.6 -13.45 1.25 -10.8 1.25 -7.1 C1.25 -3.3 3.7 -0.55 7.0 -0.55 C9.5 -0.55 11.4 -1.8 12.5 -3.6"/><path transform="translate(120.50 0)" d="M11.5 -11.3 C10.4 -12.8 8.7 -13.45 6.85 -13.45 C3.6 -13.45 1.25 -10.8 1.25 -7.0 C1.25 -3.2 3.6 -0.55 6.85 -0.55 C8.7 -0.55 10.4 -1.3 11.6 -2.6"/></g><g fill="#231f20"></g></g>
<g transform="translate(84.4 398.7) rotate(-90)"><g fill="none" stroke="#231f20" stroke-width="2.60" stroke-linejoin="miter" stroke-miterlimit="6"><path transform="translate(0.00 0)" d="M1.2 0 L4.4 -23.4 L12.05 0 L19.7 -23.4 L22.9 0" stroke-linejoin="bevel"/><path transform="translate(30.65 0)" d="M1.35 0 V-22.65 H5.6 C8.7 -22.65 10.45 -20.4 10.45 -17.2 C10.45 -14.0 8.7 -11.85 5.6 -11.85 H1.35"/><path transform="translate(44.80 0)" d="M1.25 -7.55 A5.60 6.35 0 1 0 12.45 -7.55 A5.60 6.35 0 1 0 1.25 -7.55 Z M13.1 -15.0 V0"/></g><g fill="#231f20"></g></g>
<g transform="translate(907.1 391.75) rotate(-90)"><g fill="none" stroke="#231f20" stroke-width="2.60" stroke-linejoin="miter" stroke-miterlimit="6"><path transform="translate(0.00 0)" d="M1.35 -25.2 V0 M1.90 -7.55 A5.95 6.35 0 1 0 13.80 -7.55 A5.95 6.35 0 1 0 1.90 -7.55 Z"/><path transform="translate(18.30 0)" d="M1.25 -7.55 A5.60 6.35 0 1 0 12.45 -7.55 A5.60 6.35 0 1 0 1.25 -7.55 Z M13.1 -15.0 V0"/><path transform="translate(37.95 0)" d="M1.35 -14.6 V0 M1.35 -12.3 C2.0 -13.6 3.5 -14.1 6.4 -13.9"/></g><g fill="#231f20"></g></g>
<text x="46.68" y="862" font-family="&quot;Liberation Serif&quot;, serif" fill="#000" font-size="36" textLength="52.82" lengthAdjust="spacingAndGlyphs">Die</text>
<text x="108.90" y="862" font-family="&quot;Liberation Serif&quot;, serif" fill="#000" font-size="36" textLength="246.89" lengthAdjust="spacingAndGlyphs">Verbrauchswerte</text>
<text x="366.10" y="862" font-family="&quot;Liberation Serif&quot;, serif" fill="#000" font-size="36" textLength="106.87" lengthAdjust="spacingAndGlyphs">wurden</text>
<text x="482.40" y="862" font-family="&quot;Liberation Serif&quot;, serif" fill="#000" font-size="36" textLength="140.57" lengthAdjust="spacingAndGlyphs">praxisnah</text>
<text x="631.98" y="862" font-family="&quot;Liberation Serif&quot;, serif" fill="#000" font-size="36" textLength="49.04" lengthAdjust="spacingAndGlyphs">mit</text>
<text x="689.29" y="862" font-family="&quot;Liberation Serif&quot;, serif" fill="#000" font-size="36" textLength="52.49" lengthAdjust="spacingAndGlyphs">den</text>
<text x="750.79" y="862" font-family="&quot;Liberation Serif&quot;, serif" fill="#000" font-size="36" textLength="213.21" lengthAdjust="spacingAndGlyphs">dazugehörigen</text>
<text x="974.10" y="862" font-family="&quot;Liberation Serif&quot;, serif" fill="#000" font-size="36" textLength="156.04" lengthAdjust="spacingAndGlyphs">Armaturen</text>
<text x="1140.30" y="862" font-family="&quot;Liberation Serif&quot;, serif" fill="#000" font-size="36" textLength="186.66" lengthAdjust="spacingAndGlyphs">(Thermostat/</text>
<text x="46.49" y="909" font-family="&quot;Liberation Serif&quot;, serif" fill="#000" font-size="36" textLength="368.10" lengthAdjust="spacingAndGlyphs">Mischer/Unterputzventil)</text>
<text x="423.28" y="909" font-family="&quot;Liberation Serif&quot;, serif" fill="#000" font-size="36" textLength="150.72" lengthAdjust="spacingAndGlyphs">gemessen.</text>
</svg></body></html>
